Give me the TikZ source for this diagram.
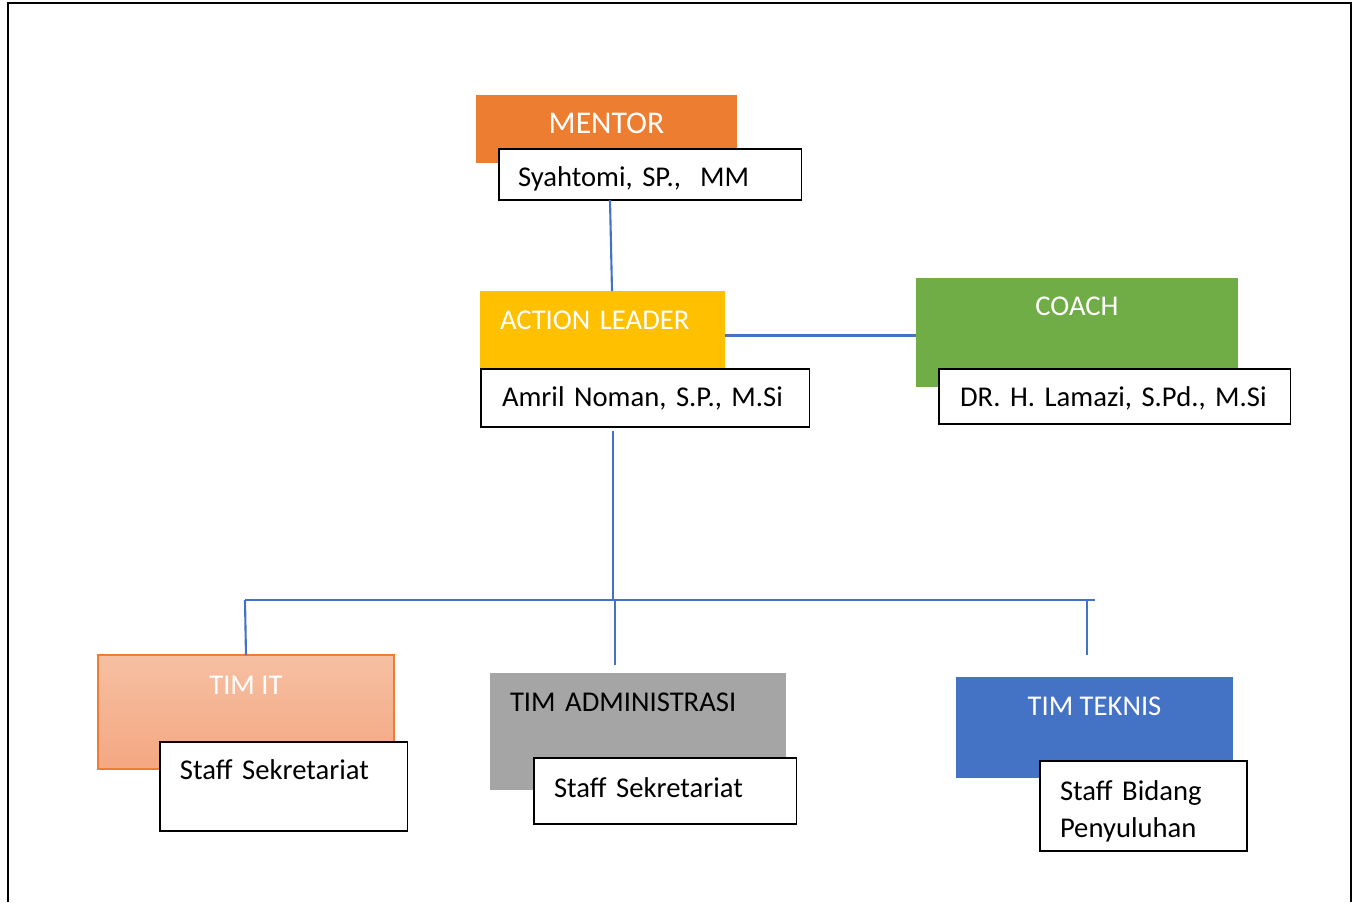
\documentclass[tikz,border=0pt]{standalone}
\usepackage{fontspec}
\setmainfont{Carlito}
\usetikzlibrary{calc}

\definecolor{mentorc}{HTML}{ED7D31}
\definecolor{leaderc}{HTML}{FFC000}
\definecolor{coachc}{HTML}{70AD47}
\definecolor{admc}{HTML}{A5A5A5}
\definecolor{tekc}{HTML}{4472C4}
\definecolor{ittop}{HTML}{F6C0A2}
\definecolor{itbot}{HTML}{F4A782}
\definecolor{linkc}{HTML}{4472C4}

\begin{document}
\frenchspacing
\begin{tikzpicture}[x=0.02cm,y=-0.02cm,every node/.style={outer sep=0pt,font=\fontsize{16.3}{21.5}\selectfont}]
\tikzset{titlebox/.style={anchor=north west,inner sep=0pt,text=white}}
\tikzset{namebox/.style={anchor=north west,draw=black,line width=0.6pt,fill=white,inner ysep=0pt,align=left}}
\tikzset{link/.style={draw=linkc,line width=1.2pt}}

\useasboundingbox (0,0) rectangle (1354,902);
\draw [line width=0.7pt] (8,902) -- (8,3) -- (1351,3) -- (1351,902);

% top
\node (mentor) [titlebox,fill=mentorc,minimum width=5.22cm,text height=0.78cm,text depth=0.58cm,font=\fontsize{18}{21.5}\selectfont] at (476,95) {MENTOR};
\node (syah) [namebox,inner xsep=0.38cm,text width=5.3cm,text height=0.76cm,text depth=0.26cm] at (499,149) {Syahtomi, SP.,~~MM};

\node (leader) [titlebox,fill=leaderc,inner xsep=0.4cm,text width=4.1cm,align=left,text height=0.78cm,text depth=1.0cm] at (480,291) {ACTION LEADER};
\node (amril) [namebox,inner xsep=0.42cm,text width=5.74cm,text height=0.76cm,text depth=0.4cm] at (481,369) {Amril Noman, S.P., M.Si};

\node (coach) [titlebox,fill=coachc,minimum width=6.44cm,text height=0.76cm,text depth=1.42cm] at (916,278) {COACH};
\node (dr) [namebox,inner xsep=0.42cm,text width=6.2cm,text height=0.76cm,text depth=0.34cm] at (939,369) {\mbox{DR. H. Lamazi, S.Pd., M.Si}};

% bottom
\node (timit) [titlebox,draw=mentorc,line width=1.2pt,top color=ittop,bottom color=itbot,minimum width=5.92cm,text height=0.78cm,text depth=1.5cm] at (98,655) {TIM IT};
\node (staffit) [namebox,inner xsep=0.4cm,text width=4.16cm,text height=0.74cm,text depth=1.04cm] at (160,742) {Staff Sekretariat};

\node (timadm) [titlebox,fill=admc,text=black,inner xsep=0.4cm,text width=5.12cm,align=left,text height=0.76cm,text depth=1.58cm] at (490,673) {TIM ADMINISTRASI};
\node (staffadm) [namebox,inner xsep=0.4cm,text width=4.46cm,text height=0.78cm,text depth=0.54cm] at (534,758) {Staff Sekretariat};

\node (timtek) [titlebox,fill=tekc,minimum width=5.54cm,text height=0.76cm,text depth=1.26cm] at (956,677) {TIM TEKNIS};
\node (stafftek) [namebox,inner xsep=0.4cm,text width=3.34cm,text height=0.78cm,text depth=1.02cm] at (1040,761) {Staff Bidang\\Penyuluhan};

% lines
\draw [link] ($(syah.south west)+(111,0)$) -- ($(leader.north west)+(132,0)$);
\draw [link] (leader.east) -- (leader.east -| coach.west);
\draw [link] ($(amril.south west)+(132,4)$) -- (613,600) coordinate (bus);
\coordinate (busL) at (245,600);
\coordinate (busR) at (1095,600);
\draw [link] (busL) -- (busR);
\draw [link] (busL) -- (timit.north);
\draw [link] (615,600) -- (615,665) coordinate (admtop);
\draw [link] (1087,600) -- (1087,655) coordinate (tektop);
\end{tikzpicture}
\end{document}
